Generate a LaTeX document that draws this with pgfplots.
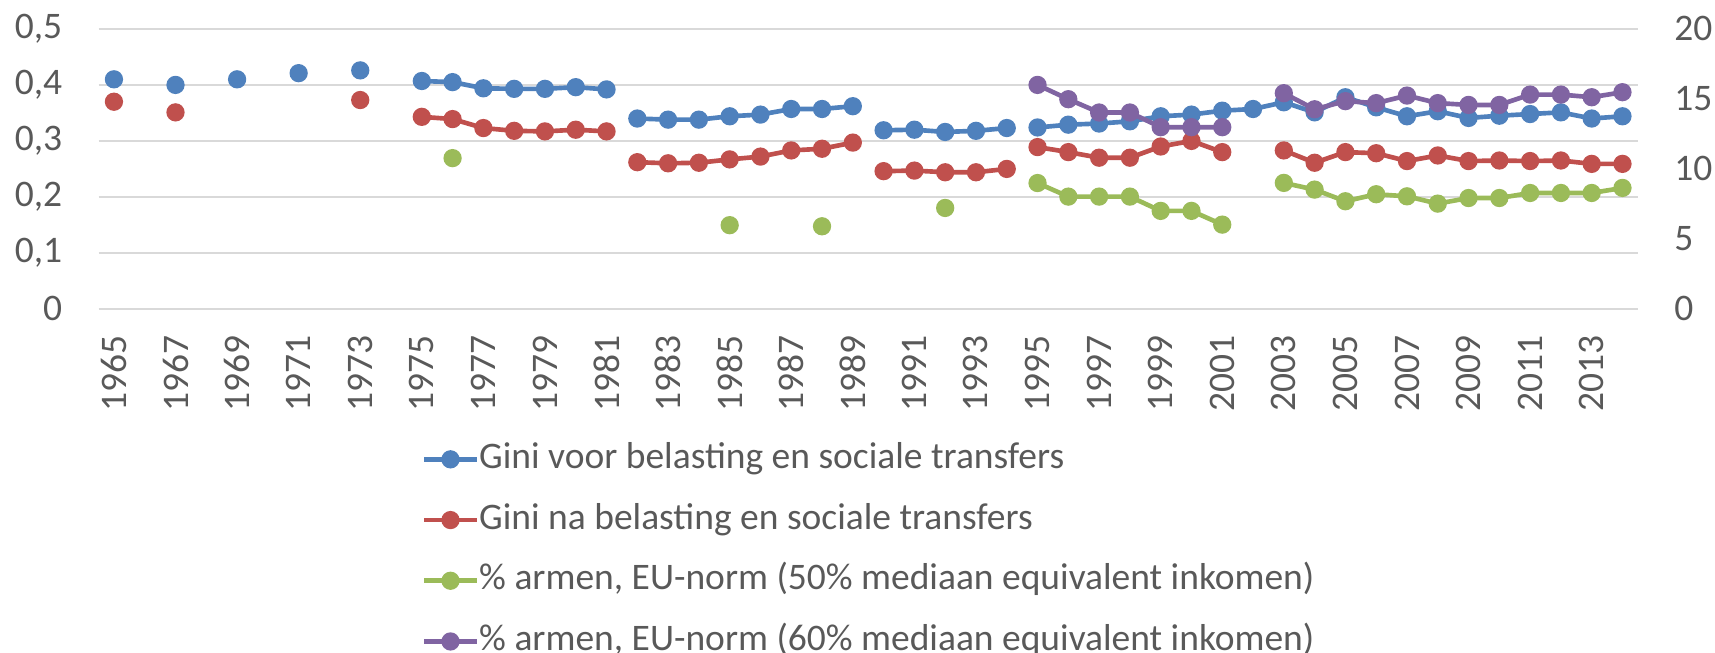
\documentclass[border=0pt]{standalone}
\usepackage{fontspec}
\setmainfont{Carlito}
\usepackage{pgfplots}
\usepackage{pgfplotstable}
\pgfplotsset{compat=1.18}

\definecolor{cBlue}{HTML}{4F81BD}
\definecolor{cRed}{HTML}{C0504D}
\definecolor{cGreen}{HTML}{9BBB59}
\definecolor{cPurple}{HTML}{8064A2}
\definecolor{cGrid}{HTML}{D9D9D9}
\definecolor{cText}{HTML}{595959}

% Gini voor belasting en sociale transfers (left axis)
\pgfplotstableread{
year val
1965 0.410
1966 nan
1967 0.400
1968 nan
1969 0.410
1970 nan
1971 0.421
1972 nan
1973 0.426
1974 nan
1975 0.407
1976 0.405
1977 0.394
1978 0.393
1979 0.393
1980 0.396
1981 0.392
1981.5 nan
1982 0.340
1983 0.338
1984 0.338
1985 0.344
1986 0.347
1987 0.357
1988 0.357
1989 0.362
1989.5 nan
1990 0.319
1991 0.320
1992 0.316
1993 0.318
1994 0.323
1994.5 nan
1995 0.324
1996 0.329
1997 0.331
1998 0.335
1999 0.344
2000 0.347
2001 0.354
2002 0.357
2003 0.369
2004 0.351
2005 0.378
2006 0.360
2007 0.344
2008 0.353
2009 0.341
2010 0.345
2011 0.348
2012 0.351
2013 0.340
2014 0.344
}\giniVoor

% Gini na belasting en sociale transfers (left axis)
\pgfplotstableread{
year val
1965 0.370
1966 nan
1967 0.351
1968 nan
1973 0.373
1974 nan
1975 0.343
1976 0.339
1977 0.323
1978 0.318
1979 0.317
1980 0.320
1981 0.317
1981.5 nan
1982 0.262
1983 0.260
1984 0.261
1985 0.267
1986 0.272
1987 0.283
1988 0.286
1989 0.297
1989.5 nan
1990 0.246
1991 0.247
1992 0.244
1993 0.244
1994 0.250
1994.5 nan
1995 0.289
1996 0.280
1997 0.270
1998 0.270
1999 0.290
2000 0.300
2001 0.280
2002 nan
2003 0.283
2004 0.261
2005 0.280
2006 0.278
2007 0.264
2008 0.274
2009 0.264
2010 0.265
2011 0.264
2012 0.265
2013 0.259
2014 0.259
}\giniNa

% % armen, 50% mediaan (right axis)
\pgfplotstableread{
year val
1976 10.77
1977 nan
1985 5.98
1986 nan
1988 5.90
1989 nan
1992 7.21
1993 nan
1995 8.99
1996 8.02
1997 8.02
1998 8.02
1999 7.00
2000 7.00
2001 6.02
2002 nan
2003 9.00
2004 8.52
2005 7.69
2006 8.19
2007 8.04
2008 7.52
2009 7.92
2010 7.92
2011 8.28
2012 8.28
2013 8.28
2014 8.64
}\armenVijftig

% % armen, 60% mediaan (right axis)
\pgfplotstableread{
year val
1995 16.00
1996 14.98
1997 14.03
1998 14.03
1999 12.98
2000 12.98
2001 12.98
2002 nan
2003 15.41
2004 14.26
2005 14.84
2006 14.70
2007 15.24
2008 14.70
2009 14.57
2010 14.57
2011 15.31
2012 15.31
2013 15.12
2014 15.48
}\armenZestig

\pgfplotsset{
  serie/.style={line width=1.3pt, mark=*, mark size=1.9pt, mark options={solid}},
  basis/.style={
    width=431.1pt, height=78.4pt, scale only axis,
    xmin=1964.5, xmax=2014.5,
    unbounded coords=jump,
    axis line style={draw=none},
    major tick length=0pt,
    ticklabel style={text=cText, inner sep=0pt, font=\fontsize{10.5}{12}\selectfont,
      /pgf/number format/assume math mode=true},
  },
}

\begin{document}
\begin{tikzpicture}
\begin{axis}[
  basis,
  name=ax,
  ymin=0, ymax=0.5,
  ytick={0,0.1,0.2,0.3,0.4,0.5},
  yticklabels={0,{0,1},{0,2},{0,3},{0,4},{0,5}},
  yticklabel shift=10pt,
  ymajorgrids=true,
  grid style={cGrid, line width=0.6pt},
  xtick={1965,1967,...,2013},
  xticklabel style={rotate=90, anchor=east, /pgf/number format/1000 sep={}},
  xticklabel shift=7.3pt,
  legend cell align=left,
  legend image code/.code={\draw[mark repeat=2,mark phase=2] plot coordinates {(0pt,0pt) (7.4pt,0pt) (14.8pt,0pt)};},
  legend style={at={(0.2095,-0.468)}, anchor=north west, draw=none, fill=none,
    inner sep=0pt, row sep=6.5pt, font=\fontsize{10.5}{12}\selectfont,
    nodes={inner sep=0pt, text height=7.8pt, text depth=2.7pt, text=cText, anchor=west, xshift=1.1pt}},
]
\addplot[serie, cBlue] table[x=year, y=val] {\giniVoor};
\addlegendentry{Gini voor belasting en sociale transfers}
\addplot[serie, cRed] table[x=year, y=val] {\giniNa};
\addlegendentry{Gini na belasting en sociale transfers}
\addlegendimage{serie, cGreen}
\addlegendentry{\% armen, EU-norm (50\% mediaan equivalent inkomen)}
\addlegendimage{serie, cPurple}
\addlegendentry{\% armen, EU-norm (60\% mediaan equivalent inkomen)}
\end{axis}
\begin{axis}[
  basis,
  axis y line*=right,
  axis x line=none,
  ymin=0, ymax=20,
  ytick={0,5,10,15,20},
  yticklabel style={anchor=west},
  yticklabel shift=10pt,
]
\addplot[serie, cGreen] table[x=year, y=val] {\armenVijftig};
\addplot[serie, cPurple] table[x=year, y=val] {\armenZestig};
\end{axis}
\pgfresetboundingbox
\useasboundingbox ([shift={(-27.6pt,-96.3pt)}]ax.south west) rectangle ([shift={(21.6pt,8.1pt)}]ax.north east);
\end{tikzpicture}
\end{document}
